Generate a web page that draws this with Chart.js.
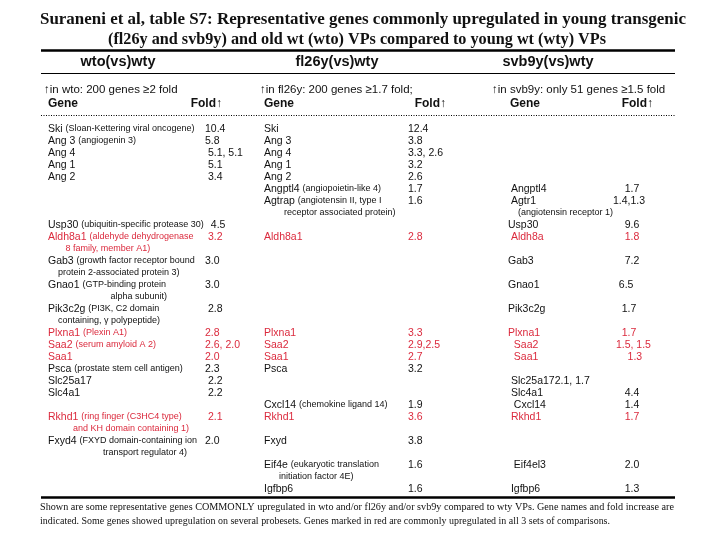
<!DOCTYPE html>
<html>
<head>
<meta charset="utf-8">
<script src="https://cdn.jsdelivr.net/npm/chart.js@4.4.1/dist/chart.umd.min.js"></script>
<style>
  html, body { margin: 0; background: #fff; }
  #wrap { width: 720px; height: 540px; }
</style>
</head>
<body>
<div id="wrap"><canvas id="table"></canvas></div>
<script>
/* global Chart */

const titleLines = [
  'Suraneni et al, table S7: Representative genes commonly upregulated in young transgenic',
  '(fl26y and svb9y) and old wt (wto) VPs compared to young wt (wty) VPs'
]
const groupHeads = ['wto(vs)wty', 'fl26y(vs)wty', 'svb9y(vs)wty']
const groupCriteria = [
  '\u2191in wto: 200 genes \u22652 fold',
  '\u2191in fl26y: 200 genes \u22651.7 fold;',
  '\u2191in svb9y: only 51 genes \u22651.5 fold'
]
const footerLines = [
  'Shown are some representative genes COMMONLY upregulated in wto and/or fl26y and/or svb9y compared to wty VPs. Gene names and fold increase are',
  'indicated. Some genes showed upregulation on several probesets. Genes marked in red are commonly upregulated in all 3 sets of comparisons.'
]

// [row, gene, note, fold, red]
const wtoCells = [
  [0, 'Ski', '(Sloan-Kettering viral oncogene)', '10.4', 0],
  [1, 'Ang 3', '(angiogenin 3)', '5.8', 0],
  [2, 'Ang 4', '', ' 5.1, 5.1', 0],
  [3, 'Ang 1', '', ' 5.1', 0],
  [4, 'Ang 2', '', ' 3.4', 0],
  [8, 'Usp30', '(ubiquitin-specific protease 30)', '  4.5', 0],
  [9, 'Aldh8a1', '(aldehyde dehydrogenase', ' 3.2', 1],
  [10, '', '       8 family, member A1)', '', 1],
  [11, 'Gab3', '(growth factor receptor bound', '3.0', 0],
  [12, '', '    protein 2-associated protein 3)', '', 0],
  [13, 'Gnao1', '(GTP-binding protein', '3.0', 0],
  [14, '', '                         alpha subunit)', '', 0],
  [15, 'Pik3c2g', '(PI3K, C2 domain', ' 2.8', 0],
  [16, '', '    containing, \u03b3 polypeptide)', '', 0],
  [17, 'Plxna1', '(Plexin A1)', '2.8', 1],
  [18, 'Saa2', '(serum amyloid A 2)', '2.6, 2.0', 1],
  [19, 'Saa1', '', '2.0', 1],
  [20, 'Psca', '(prostate stem cell antigen)', '2.3', 0],
  [21, 'Slc25a17', '', ' 2.2', 0],
  [22, 'Slc4a1', '', ' 2.2', 0],
  [24, 'Rkhd1', '(ring finger (C3HC4 type)', ' 2.1', 1],
  [25, '', '          and KH domain containing 1)', '', 1],
  [26, 'Fxyd4', '(FXYD domain-containing ion', '2.0', 0],
  [27, '', '                      transport regulator 4)', '', 0]
]

const fl26Cells = [
  [0, 'Ski', '', '12.4', 0],
  [1, 'Ang 3', '', '3.8', 0],
  [2, 'Ang 4', '', '3.3, 2.6', 0],
  [3, 'Ang 1', '', '3.2', 0],
  [4, 'Ang 2', '', '2.6', 0],
  [5, 'Angptl4', '(angiopoietin-like 4)', '1.7', 0],
  [6, 'Agtrap', '(angiotensin II, type I', '1.6', 0],
  [7, '', '        receptor associated protein)', '', 0],
  [9, 'Aldh8a1', '', '2.8', 1],
  [17, 'Plxna1', '', '3.3', 1],
  [18, 'Saa2', '', '2.9,2.5', 1],
  [19, 'Saa1', '', '2.7', 1],
  [20, 'Psca', '', '3.2', 0],
  [23, 'Cxcl14', '(chemokine ligand 14)', '1.9', 0],
  [24, 'Rkhd1', '', '3.6', 1],
  [26, 'Fxyd', '', '3.8', 0],
  [28, 'Eif4e', '(eukaryotic translation', '1.6', 0],
  [29, '', '      initiation factor 4E)', '', 0],
  [30, 'Igfbp6', '', '1.6', 0]
]

const svbCells = [
  [5, ' Angptl4', '', '    1.7', 0],
  [6, ' Agtr1', '', '1.4,1.3', 0],
  [7, '', '    (angiotensin receptor 1)', '', 0],
  [8, 'Usp30', '', '    9.6', 0],
  [9, ' Aldh8a', '', '    1.8', 1],
  [11, 'Gab3', '', '    7.2', 0],
  [13, 'Gnao1', '', '  6.5', 0],
  [15, 'Pik3c2g', '', '   1.7', 0],
  [17, 'Plxna1', '', '   1.7', 1],
  [18, '  Saa2', '', ' 1.5, 1.5', 1],
  [19, '  Saa1', '', '     1.3', 1],
  [21, ' Slc25a172.1, 1.7', '', '', 0],
  [22, ' Slc4a1', '', '    4.4', 0],
  [23, '  Cxcl14', '', '    1.4', 0],
  [24, ' Rkhd1', '', '    1.7', 1],
  [28, '  Eif4el3', '', '    2.0', 0],
  [30, ' Igfbp6', '', '    1.3', 0]
]

const RED = '#db2a3d'
const INK = '#111'
const SANS = '"Liberation Sans", Arial, sans-serif'
const SERIF = '"Liberation Serif", "Times New Roman", serif'

// column anchors in x-scale units (scale spans the page width)
const COLS = [
  { gene: 48, fold: 205, head: 118, crit: 44, geneHead: 48, foldHead: 222 },
  { gene: 264, fold: 408, head: 337, crit: 260, geneHead: 264, foldHead: 446 },
  { gene: 508, fold: 613, head: 548, crit: 492, geneHead: 510, foldHead: 653 }
]
const RULE = { left: 41, right: 675, top: 50.5, head: 73.5, dots: 115.5, bottom: 497.5 }

function toDataset(cells, g) {
  return {
    label: groupHeads[g],
    data: cells.map(c => ({ x: COLS[g].gene, y: c[0] })),
    cells,
    group: g,
    pointRadius: 0,
    showLine: false
  }
}

const tablePlugin = {
  id: 'tableText',
  afterDatasetsDraw(chart) {
    const { ctx, scales: { x, y } } = chart
    const px = v => x.getPixelForValue(v)
    const py = p => y.getPixelForValue(y.getValueForPixel(p))
    ctx.save()
    ctx.textBaseline = 'middle'
    ctx.fillStyle = INK

    // title
    ctx.textAlign = 'center'
    ctx.font = 'bold 17px ' + SERIF
    ctx.fillText(titleLines[0], px(363), py(20), 646)
    ctx.fillText(titleLines[1], px(357), py(40), 498)

    // rules
    ctx.strokeStyle = '#000'
    ctx.lineWidth = 2.5
    ctx.beginPath()
    ctx.moveTo(px(RULE.left), py(RULE.top)); ctx.lineTo(px(RULE.right), py(RULE.top))
    ctx.moveTo(px(RULE.left), py(RULE.bottom)); ctx.lineTo(px(RULE.right), py(RULE.bottom))
    ctx.stroke()
    ctx.lineWidth = 1.2
    ctx.beginPath()
    ctx.moveTo(px(RULE.left), py(RULE.head)); ctx.lineTo(px(RULE.right), py(RULE.head))
    ctx.stroke()
    ctx.lineWidth = 1
    ctx.setLineDash([1, 1.5])
    ctx.beginPath()
    ctx.moveTo(px(RULE.left), py(RULE.dots)); ctx.lineTo(px(RULE.right), py(RULE.dots))
    ctx.stroke()
    ctx.setLineDash([])

    // column heads
    ctx.font = 'bold 14.5px ' + SANS
    groupHeads.forEach((h, g) => ctx.fillText(h, px(COLS[g].head), py(61.5)))
    ctx.textAlign = 'left'
    ctx.font = '11.5px ' + SANS
    groupCriteria.forEach((t, g) => ctx.fillText(t, px(COLS[g].crit), py(89.5)))
    ctx.font = 'bold 12px ' + SANS
    COLS.forEach(c => {
      ctx.textAlign = 'left'
      ctx.fillText('Gene', px(c.geneHead), py(103.5))
      ctx.textAlign = 'right'
      ctx.fillText('Fold\u2191', px(c.foldHead), py(103.5))
    })

    // cells, positioned by each dataset's points
    ctx.textAlign = 'left'
    chart.data.datasets.forEach((ds, di) => {
      const meta = chart.getDatasetMeta(di)
      meta.data.forEach((el, i) => {
        const [, gene, note, fold, red] = ds.cells[i]
        ctx.fillStyle = red ? RED : INK
        let cx = el.x
        if (gene) {
          ctx.font = '10.5px ' + SANS
          ctx.fillText(gene, cx, el.y)
          cx += ctx.measureText(gene + ' ').width
        }
        if (note) {
          ctx.font = '9px ' + SANS
          ctx.fillText(note, cx, el.y)
        }
        if (fold) {
          ctx.font = '10.5px ' + SANS
          ctx.fillText(fold, px(COLS[ds.group].fold), el.y)
        }
      })
    })

    // footnote
    ctx.fillStyle = INK
    ctx.font = '11px ' + SERIF
    ctx.fillText(footerLines[0], px(40), py(507), 634)
    ctx.fillText(footerLines[1], px(40), py(521), 570)
    ctx.restore()
  }
}

// row i sits at 129 + 12 * i pixels of the 540 px page
const ROW_TOP = 129
const ROW_STEP = 12

new Chart(document.getElementById('table'), {
  type: 'scatter',
  data: {
    datasets: [toDataset(wtoCells, 0), toDataset(fl26Cells, 1), toDataset(svbCells, 2)]
  },
  options: {
    responsive: true,
    maintainAspectRatio: false,
    animation: false,
    layout: { padding: 0 },
    plugins: { legend: { display: false }, title: { display: false }, tooltip: { enabled: false } },
    scales: {
      x: { type: 'linear', min: 0, max: 720, display: false },
      y: {
        type: 'linear',
        reverse: true,
        min: -ROW_TOP / ROW_STEP,
        max: (540 - ROW_TOP) / ROW_STEP,
        display: false
      }
    }
  },
  plugins: [tablePlugin]
})
</script>
</body>
</html>
